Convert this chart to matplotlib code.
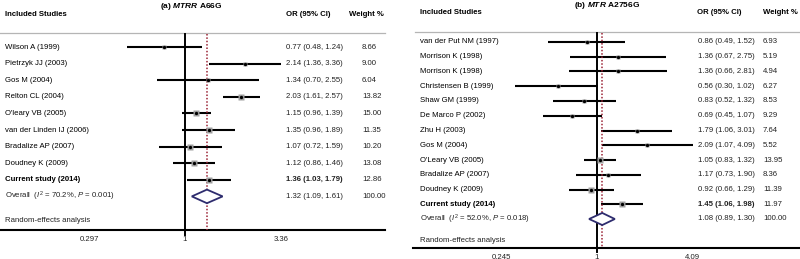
import numpy as np
import matplotlib
matplotlib.use('Agg')
import matplotlib.pyplot as plt

plt.rcParams['font.family'] = ['Liberation Sans', 'DejaVu Sans']
plt.rcParams['mathtext.fontset'] = 'custom'
plt.rcParams['mathtext.rm'] = 'Liberation Sans'
plt.rcParams['mathtext.it'] = 'Liberation Sans:italic'
plt.rcParams['mathtext.bf'] = 'Liberation Sans:bold'
plt.rcParams['mathtext.bfit'] = 'Liberation Sans:bold:italic'

# (a) MTRR A66G
studies_a = ['Wilson A (1999)', 'Pietrzyk JJ (2003)', 'Gos M (2004)', 'Relton CL (2004)',
             "O'leary VB (2005)", 'van der Linden IJ (2006)', 'Bradalize AP (2007)',
             'Doudney K (2009)', 'Current study (2014)']
or_a = [0.77, 2.14, 1.34, 2.03, 1.15, 1.35, 1.07, 1.12, 1.36]
lo_a = [0.48, 1.36, 0.70, 1.61, 0.96, 0.96, 0.72, 0.86, 1.03]
hi_a = [1.24, 3.36, 2.55, 2.57, 1.39, 1.89, 1.59, 1.46, 1.79]
w_a = [8.66, 9.00, 6.04, 13.82, 15.00, 11.35, 10.20, 13.08, 12.86]
overall_a = [1.32, 1.09, 1.61]
het_a = ['70.2', '0.001']
ticks_a = [0.297, 1, 3.36]

# (b) MTR A2756G
studies_b = ['van der Put NM (1997)', 'Morrison K (1998)', 'Morrison K (1998)',
             'Christensen B (1999)', 'Shaw GM (1999)', 'De Marco P (2002)', 'Zhu H (2003)',
             'Gos M (2004)', "O'Leary VB (2005)", 'Bradalize AP (2007)', 'Doudney K (2009)',
             'Current study (2014)']
or_b = [0.86, 1.36, 1.36, 0.56, 0.83, 0.69, 1.79, 2.09, 1.05, 1.17, 0.92, 1.45]
lo_b = [0.49, 0.67, 0.66, 0.30, 0.52, 0.45, 1.06, 1.07, 0.83, 0.73, 0.66, 1.06]
hi_b = [1.52, 2.75, 2.81, 1.02, 1.32, 1.07, 3.01, 4.09, 1.32, 1.90, 1.29, 1.98]
w_b = [6.93, 5.19, 4.94, 6.27, 8.53, 9.29, 7.64, 5.52, 13.95, 8.36, 11.39, 11.97]
overall_b = [1.08, 0.89, 1.30]
het_b = ['52.0', '0.018']
ticks_b = [0.245, 1, 4.09]

FS = 5.6
NAVY = '#2e2c6e'
RED = '#9b2335'


def forest(ax, title, studies, ors, los, his, ws, overall, het, ticks, lay):
    # lay: pixel layout of the panel (width, zero px, px per ln unit, rows ...)
    W = lay['width']
    n = len(studies)
    ax.set_xscale('log')
    ax.set_xlim(np.exp(-lay['x0'] / lay['k']), np.exp((W - lay['x0']) / lay['k']))
    ax.set_ylim(lay['ybot'], lay['ytop'])
    ax.minorticks_off()
    tr = ax.get_yaxis_transform()

    ax.text(lay['title_x'] / W, lay['title_y'], title, transform=tr, ha='center', va='center',
            fontsize=FS + 0.4, fontweight='bold')
    ax.text(lay['lab_x'] / W, lay['head_y'], 'Included Studies', transform=tr, va='center',
            fontsize=FS, fontweight='bold')
    ax.text(lay['orh_x'] / W, lay['head_y'], 'OR (95% CI)', transform=tr, va='center',
            fontsize=FS, fontweight='bold')
    ax.text(lay['wh_x'] / W, lay['head_y'], 'Weight %', transform=tr, va='center',
            fontsize=FS, fontweight='bold')
    ax.axhline(lay['line_y'], xmin=lay['l0'] / W, xmax=lay['l1'] / W, color='#b5b5b5', lw=0.9)

    for i in range(n):
        bold = 'bold' if studies[i].startswith('Current') else 'normal'
        ax.plot([los[i], his[i]], [i, i], color='black', lw=1.5, solid_capstyle='butt', zorder=3)
        side = 1.6 * np.sqrt(ws[i])
        ax.plot(ors[i], i, marker='s', ms=side * 0.72, color='#a0a0a0', mec='none', zorder=4)
        ax.plot(ors[i], i, marker='o', ms=2.4, color='black', mec='none', zorder=5)
        ax.text(lay['lab_x'] / W, i, studies[i], transform=tr, va='center', fontsize=FS, fontweight=bold)
        ax.text(lay['or_x'] / W, i, '%.2f (%.2f, %.2f)' % (ors[i], los[i], his[i]), transform=tr,
                va='center', fontsize=FS, fontweight=bold, color='#222222')
        ax.text(lay['w_x'] / W, i, '%.2f' % ws[i], transform=tr, va='center', fontsize=FS,
                color='#222222')

    # pooled estimate
    yo = n
    est, lo, hi = overall
    h = 0.41
    ax.fill([lo, est, hi, est, lo], [yo, yo - h, yo, yo + h, yo], facecolor='white',
            edgecolor=NAVY, lw=1.3, zorder=4)
    ax.text(lay['lab_x'] / W, yo,
            r'Overall  ($\mathit{I}^2$ = %s%%, $\mathit{P}$ = %s)' % (het[0], het[1]),
            transform=tr, va='center', fontsize=FS, color='#222222')
    ax.text(lay['or_x'] / W, yo, '%.2f (%.2f, %.2f)' % (est, lo, hi), transform=tr,
            va='center', fontsize=FS, color='#222222')
    ax.text(lay['w_x'] / W, yo, '100.00', transform=tr, va='center', fontsize=FS, color='#222222')
    ax.text(lay['lab_x'] / W, lay['rand_y'], 'Random-effects analysis', transform=tr,
            va='center', fontsize=FS, color='#222222')

    ax.plot([1, 1], [lay['line_y'] + 0.05, lay['axis_y'] + 0.3], color='black', lw=1.4, zorder=2)
    ax.plot([est, est], [lay['line_y'] + 0.05, lay['axis_y']], color=RED, lw=1.1,
            ls=(0, (1, 1.2)), zorder=3)

    for s in ['top', 'left', 'right']:
        ax.spines[s].set_visible(False)
    ax.spines['bottom'].set_position(('data', lay['axis_y']))
    ax.spines['bottom'].set_bounds(np.exp((lay['a0'] - lay['x0']) / lay['k']),
                                   np.exp((lay['a1'] - lay['x0']) / lay['k']))
    ax.spines['bottom'].set_linewidth(1.5)
    ax.set_xticks(ticks)
    ax.set_xticklabels(['%g' % t for t in ticks])
    ax.set_yticks([])
    ax.tick_params(axis='x', length=0, pad=4, labelsize=FS, labelcolor='#222222')


fig = plt.figure(figsize=(8, 2.59), dpi=100)

sp_a = 16.6
y0_a = 47
lay_a = dict(width=390, x0=185, k=79, ytop=-y0_a / sp_a, ybot=(259 - y0_a) / sp_a,
             title_x=191, title_y=(6 - y0_a) / sp_a, head_y=(14 - y0_a) / sp_a,
             line_y=(33 - y0_a) / sp_a, rand_y=(220 - y0_a) / sp_a, axis_y=(230 - y0_a) / sp_a,
             lab_x=5, or_x=286, w_x=362, orh_x=286, wh_x=349, l0=0, l1=385, a0=0, a1=385)
ax1 = fig.add_axes([0, 0, 390 / 800, 1])
forest(ax1, r'(a) $\mathbfit{MTRR}$ A66G', studies_a, or_a, lo_a, hi_a, w_a, overall_a, het_a,
       ticks_a, lay_a)

sp_b = 14.75
y0_b = 42
lay_b = dict(width=400, x0=197, k=68, ytop=-y0_b / sp_b, ybot=(259 - y0_b) / sp_b,
             title_x=207, title_y=(6 - y0_b) / sp_b, head_y=(13 - y0_b) / sp_b,
             line_y=(32 - y0_b) / sp_b, rand_y=(240 - y0_b) / sp_b, axis_y=(248 - y0_b) / sp_b,
             lab_x=20, or_x=298, w_x=363, orh_x=297, wh_x=363, l0=15, l1=400, a0=13, a1=400)
ax2 = fig.add_axes([0.5, 0, 0.5, 1])
forest(ax2, r'(b) $\mathbfit{MTR}$ A2756G', studies_b, or_b, lo_b, hi_b, w_b, overall_b, het_b,
       ticks_b, lay_b)

fig.savefig('out.png', dpi=100)
